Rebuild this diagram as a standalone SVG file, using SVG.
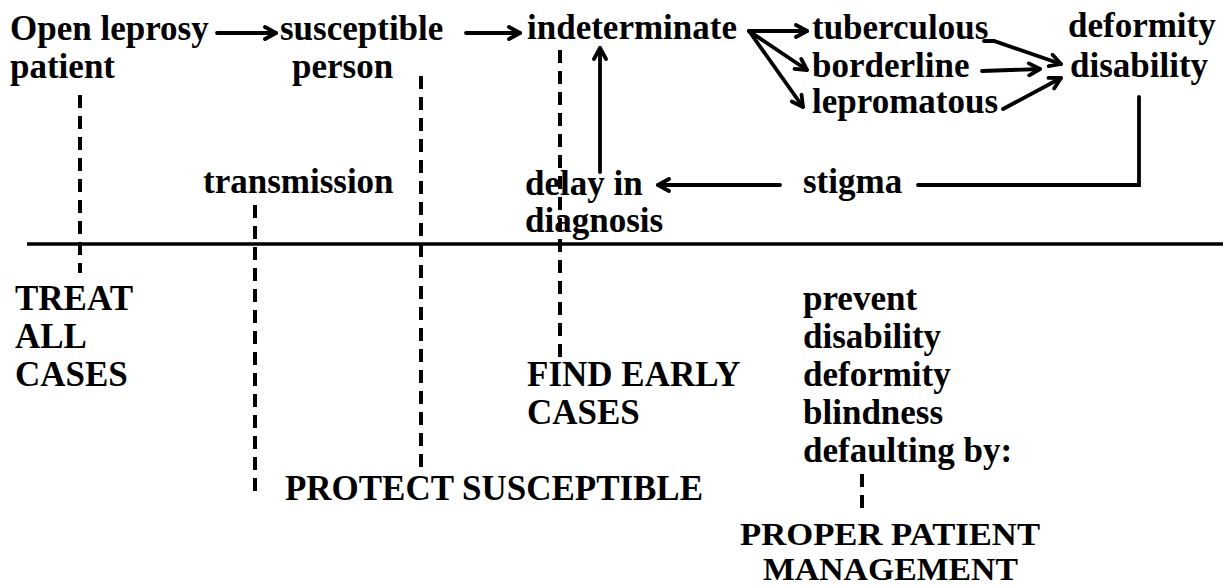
<svg xmlns="http://www.w3.org/2000/svg" width="1223" height="587" viewBox="0 0 1223 587">
<defs>
<style>
text{font-family:"Liberation Serif","Times New Roman",serif;font-size:35px;font-weight:bold;fill:#000}
text.cap{font-size:31px}
.dash{stroke:#000;stroke-width:4;stroke-dasharray:13 8;fill:none}
.ln{stroke:#000;stroke-width:3.8;fill:none;stroke-linecap:round}
</style>
<marker id="ah" viewBox="0 0 16 16" refX="14" refY="8" markerWidth="16" markerHeight="16" orient="auto" markerUnits="userSpaceOnUse">
<path d="M3,2 L14,8 L3,14" fill="none" stroke="#000" stroke-width="3.8" stroke-linecap="round" stroke-linejoin="round"/>
</marker>
</defs>
<rect width="1223" height="587" fill="#fff"/>
<g id="connectors">
<line class="ln" x1="217" y1="33" x2="276" y2="33" marker-end="url(#ah)"/>
<line class="ln" x1="466" y1="33" x2="520" y2="33" marker-end="url(#ah)"/>
<line class="ln" x1="749" y1="31" x2="807" y2="31" marker-end="url(#ah)"/>
<line class="ln" x1="749" y1="31" x2="807" y2="70" marker-end="url(#ah)"/>
<line class="ln" x1="749" y1="31" x2="803" y2="107" marker-end="url(#ah)"/>
<polyline class="ln" points="984,41 994,41 1061,64" marker-end="url(#ah)"/>
<line class="ln" x1="982" y1="71" x2="1040" y2="69" marker-end="url(#ah)"/>
<line class="ln" x1="1003" y1="109" x2="1061" y2="78" marker-end="url(#ah)"/>
<polyline class="ln" points="1139,97 1139,185 918,185"/>
<line class="ln" x1="780" y1="185" x2="658" y2="185" marker-end="url(#ah)"/>
<line class="ln" x1="600" y1="172" x2="600" y2="48" marker-end="url(#ah)"/>
<line stroke="#000" stroke-width="3.5" x1="27" y1="244" x2="1223" y2="244"/>
<line class="dash" x1="80" y1="95" x2="80" y2="273"/>
<line class="dash" x1="255" y1="205" x2="255" y2="496"/>
<line class="dash" x1="421" y1="76" x2="421" y2="472"/>
<line class="dash" x1="560" y1="50" x2="560" y2="357"/>
<line class="dash" x1="862" y1="474" x2="862" y2="508"/>
</g>
<g id="n-open"><text x="10" y="40">Open leprosy</text><text x="10" y="78">patient</text></g>
<g id="n-susceptible"><text x="280" y="40">susceptible</text><text x="292" y="78">person</text></g>
<g id="n-indeterminate"><text x="527" y="39">indeterminate</text></g>
<g id="n-tuberculous"><text x="812" y="39">tuberculous</text></g>
<g id="n-borderline"><text x="812" y="77">borderline</text></g>
<g id="n-lepromatous"><text x="812" y="113">lepromatous</text></g>
<g id="n-deformity"><text x="1068" y="37">deformity</text><text x="1070" y="77">disability</text></g>
<g id="n-transmission"><text x="203" y="193">transmission</text></g>
<g id="n-delay"><text x="525" y="195">delay in</text><text x="525" y="232">diagnosis</text></g>
<g id="n-stigma"><text x="803" y="193">stigma</text></g>
<g id="n-treat"><text x="15" y="310">TREAT</text><text x="15" y="348">ALL</text><text x="15" y="386">CASES</text></g>
<g id="n-find"><text x="527" y="386">FIND EARLY</text><text x="527" y="424">CASES</text></g>
<g id="n-prevent"><text x="803" y="310">prevent</text><text x="803" y="348">disability</text><text x="803" y="386">deformity</text><text x="803" y="424">blindness</text><text x="803" y="462">defaulting by:</text></g>
<g id="n-protect"><text x="285" y="500" textLength="418" lengthAdjust="spacingAndGlyphs">PROTECT SUSCEPTIBLE</text></g>
<g id="n-proper"><text class="cap" x="740" y="545" textLength="300" lengthAdjust="spacingAndGlyphs">PROPER PATIENT</text><text class="cap" x="763" y="580" textLength="255" lengthAdjust="spacingAndGlyphs">MANAGEMENT</text></g>
</svg>
